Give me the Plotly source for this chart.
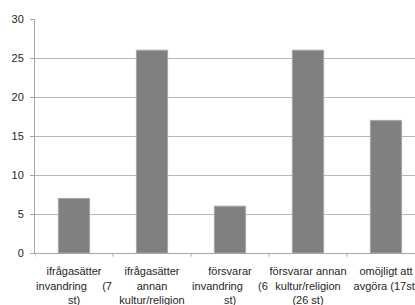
import plotly.graph_objects as go

NB = "\u00a0"
categories = [
    "ifrågasätter<br>invandring" + NB * 5 + "(7<br>st)",
    "ifrågasätter<br>annan<br>kultur/religion",
    "försvarar<br>invandring" + NB * 5 + "(6<br>st)",
    "försvarar annan<br>kultur/religion<br>(26 st)",
    "omöjligt att<br>avgöra (17st)",
]
values = [7, 26, 6, 26, 17]
y_ticks = [0, 5, 10, 15, 20, 25, 30]

x_idx = list(range(len(categories)))

fig = go.Figure()
fig.add_trace(go.Bar(
    x=x_idx,
    y=values,
    width=0.4,
    marker=dict(color="#808080", line=dict(color="#a6a6a6", width=1)),
))

fig.update_layout(
    width=415,
    height=305,
    margin=dict(l=35, r=0, t=19, b=52),
    paper_bgcolor="white",
    plot_bgcolor="white",
    showlegend=False,
    font=dict(family="Liberation Sans, Arial", size=11, color="#262626"),
    xaxis=dict(
        range=[-0.5, 4.372],
        tickmode="array",
        tickvals=x_idx,
        ticktext=categories,
        tickangle=0,
        automargin=False,
        ticklabeloverflow="allow",
        ticklabelstandoff=8,
        showgrid=False,
        showline=True,
        linecolor="#a6a6a6",
        linewidth=1,
        ticks="",
        zeroline=False,
        fixedrange=True,
    ),
    yaxis=dict(
        range=[0, 30],
        tickmode="array",
        tickvals=y_ticks,
        ticktext=[str(v) for v in y_ticks],
        automargin=False,
        ticklabelstandoff=4,
        showgrid=True,
        gridcolor="#b8b8b8",
        gridwidth=1,
        showline=True,
        linecolor="#a6a6a6",
        linewidth=1,
        ticks="outside",
        ticklen=4,
        tickcolor="#a6a6a6",
        zeroline=False,
        fixedrange=True,
    ),
)

# category boundary tick marks below the x axis
for b in [-0.5, 0.5, 1.5, 2.5, 3.5]:
    fig.add_shape(type="line", xref="x", yref="paper", x0=b, x1=b, y0=0, y1=-0.016,
                  line=dict(color="#a6a6a6", width=1))

fig.write_html(
    "out.html",
    config={"displayModeBar": False, "staticPlot": True},
    post_script="document.body.style.margin='0';document.body.style.overflow='hidden';",
)
